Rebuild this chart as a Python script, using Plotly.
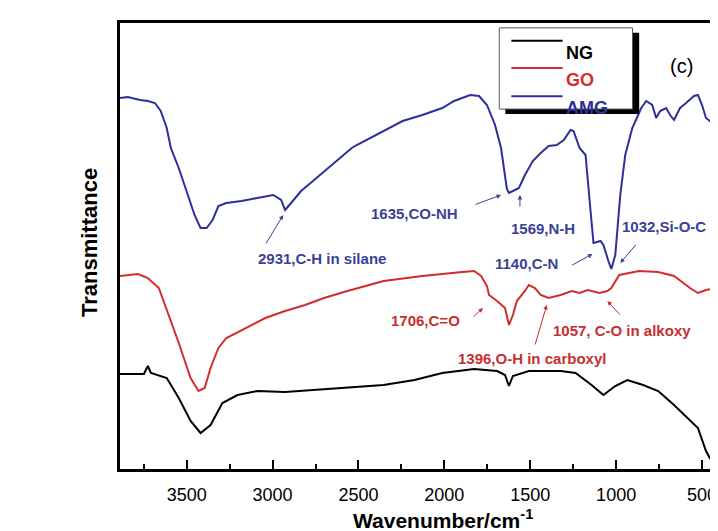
import plotly.graph_objects as go

# ---- data (wavenumber cm^-1, transmittance a.u.) ----
ng_wn = [3888, 3749, 3726, 3708, 3616, 3546, 3477, 3419, 3361, 3292, 3204, 3089, 2927, 2765, 2585, 2354,
         2174, 2012, 1827, 1693, 1647, 1624, 1601, 1508, 1323, 1236, 1143, 1074, 1005, 935, 843, 755,
         663, 570, 524, 477, 455, 432, 408, 391]
ng_t = [95, 95, 103, 96, 91, 71, 48, 36, 44, 66, 74, 78, 77, 79, 81, 84,
        89, 96, 100, 98, 94, 83, 93, 98, 98, 96, 84, 74, 83, 89, 84, 78,
        64, 48, 41, 18, 11, 14, 8, 24]

go_wn = [3888, 3783, 3726, 3685, 3662, 3546, 3477, 3431, 3395, 3361, 3315, 3269, 3158, 3042, 2927, 2811,
         2700, 2585, 2354, 2128, 1896, 1827, 1786, 1752, 1740, 1693, 1647, 1624, 1601, 1578, 1531, 1508,
         1473, 1439, 1393, 1323, 1259, 1213, 1166, 1097, 1051, 1028, 982, 866, 755, 663, 593, 570,
         524, 477, 419, 391]
go_t = [193, 195, 191, 184, 181, 126, 91, 78, 81, 101, 121, 131, 141, 151, 158, 164,
        171, 177, 188, 193, 197, 198, 193, 183, 174, 168, 161, 144, 154, 168, 178, 184,
        181, 174, 171, 174, 178, 176, 179, 176, 178, 181, 194, 198, 197, 193, 184, 181,
        176, 179, 181, 186]

amg_wn = [3888, 3842, 3772, 3726, 3685, 3651, 3616, 3592, 3546, 3500, 3454, 3419, 3384, 3349, 3315, 3269,
          3181, 3089, 2996, 2950, 2927, 2892, 2834, 2765, 2677, 2585, 2539, 2510, 2354, 2243, 2128, 2012,
          1943, 1850, 1798, 1752, 1705, 1670, 1636, 1624, 1589, 1566, 1531, 1485, 1439, 1393, 1346, 1305,
          1265, 1248, 1213, 1178, 1149, 1132, 1091, 1074, 1045, 1028, 1005, 976, 947, 906, 877,
          854, 825, 790, 767, 744, 709, 686, 663, 628, 593, 547, 524, 500, 477, 455, 419, 391]
amg_t = [371, 372, 369, 368, 366, 358, 341, 321, 301, 278, 254, 241, 241, 249, 263, 266,
         268, 271, 274, 269, 259, 266, 278, 288, 301, 314, 321, 324, 338, 348, 354, 361,
         368, 374, 373, 364, 344, 321, 280, 276, 279, 281, 294, 308, 316, 323, 324, 329,
         339, 338, 321, 314, 258, 226, 228, 224, 208, 200, 214, 274, 314, 341, 352,
         361, 368, 364, 351, 358, 361, 354, 349, 361, 366, 373, 374, 364, 351, 348, 354, 361]

series_names = ["NG", "GO", "AMG"]
x_ticks = [3500, 3000, 2500, 2000, 1500, 1000, 500]

BLUE = "#2c2f9c"
RED = "#d42b2b"
BLUE_TXT = "#3b3f97"
RED_TXT = "#c4302e"
FONT = "Liberation Sans, Arial, sans-serif"

fig = go.Figure()
fig.add_trace(go.Scatter(x=ng_wn, y=ng_t, mode="lines", line=dict(color="black", width=2), name="NG"))
fig.add_trace(go.Scatter(x=go_wn, y=go_t, mode="lines", line=dict(color=RED, width=2), name="GO"))
fig.add_trace(go.Scatter(x=amg_wn, y=amg_t, mode="lines", line=dict(color=BLUE, width=2), name="AMG"))

# peak annotations: (text, text_x, text_y, xanchor, tail_x, tail_y, head_x, head_y, color)
peaks = [
    ("2931,C-H in silane", 2713, 211, "center", 3043, 224, 2938, 254, BLUE_TXT),
    ("1635,CO-NH", 2174, 256, "center", 1827, 264, 1670, 274, BLUE_TXT),
    ("1569,N-H", 1427, 241, "center", 1560, 261, 1560, 274, BLUE_TXT),
    ("1140,C-N", 1520, 206, "center", 1265, 203, 1138, 215, BLUE_TXT),
    ("1032,Si-O-C", 976, 243, "left", 877, 226, 976, 206, BLUE_TXT),
    ("1706,C=O", 2110, 149, "center", 1838, 151, 1775, 161, RED_TXT),
    ("1396,O-H in carboxyl", 1491, 111, "center", 1474, 123, 1404, 164, RED_TXT),
    ("1057, C-O in alkoxy", 1381, 139, "left", 970, 153, 1051, 168, RED_TXT),
]
for txt, tx, ty, xa, ax_, ay_, hx, hy, col in peaks:
    fig.add_annotation(x=tx, y=ty, xref="x", yref="y", text=txt, showarrow=False, xanchor=xa,
                       font=dict(family=FONT, size=15, color=col, weight="bold"))
    fig.add_annotation(x=hx, y=hy, ax=ax_, ay=ay_, xref="x", yref="y", axref="x", ayref="y",
                       text="", showarrow=True, arrowhead=2, arrowsize=0.9, arrowwidth=1,
                       arrowcolor=col)

# legend box drawn manually (with drop shadow)
fig.add_shape(type="rect", xref="paper", yref="paper", x0=0.639, x1=0.861, y0=0.796, y1=0.978,
              fillcolor="black", line=dict(width=0))
fig.add_shape(type="rect", xref="paper", yref="paper", x0=0.629, x1=0.850, y0=0.807, y1=0.989,
              fillcolor="white", line=dict(color="#555555", width=1))
leg_cols = ["black", RED, BLUE]
leg_y = [0.960, 0.899, 0.836]
for nm, c, yy in zip(series_names, leg_cols, leg_y):
    fig.add_shape(type="line", xref="paper", yref="paper", x0=0.649, x1=0.734, y0=yy, y1=yy,
                  line=dict(color=c, width=2))
    fig.add_annotation(x=0.737, y=yy, xref="paper", yref="paper", text=nm, showarrow=False,
                       xanchor="left", font=dict(family=FONT, size=18, color=c, weight="bold"))

fig.add_annotation(x=0.954, y=0.933, xref="paper", yref="paper", text="(c)", showarrow=False,
                   font=dict(family=FONT, size=20, color="black"))

# axis titles
fig.add_annotation(x=0.535, y=-0.113, xref="paper", yref="paper", yanchor="middle",
                   text="Wavenumber/cm<sup>-1</sup>", showarrow=False,
                   font=dict(family=FONT, size=21, color="black", weight="bold"))
fig.add_annotation(x=-0.0495, y=0.507, xref="paper", yref="paper", xanchor="center",
                   text="Transmittance", showarrow=False, textangle=-90,
                   font=dict(family=FONT, size=22, color="black", weight="bold"))

fig.update_xaxes(range=[3888, 378], tickvals=x_ticks, ticktext=[str(v) for v in x_ticks],
                 ticks="inside", ticklen=9, tickwidth=1.5, tickcolor="black",
                 minor=dict(dtick=250, tick0=0, ticks="inside", ticklen=5, tickwidth=1.5, tickcolor="black"),
                 showline=True, linecolor="black", linewidth=2.5, mirror=True,
                 showgrid=False, zeroline=False, ticklabelstandoff=8,
                 tickfont=dict(family=FONT, size=18, color="black"))
fig.update_yaxes(range=[0, 446], showticklabels=False, ticks="", showline=True, linecolor="black",
                 linewidth=2.5, mirror=True, showgrid=False, zeroline=False)

fig.update_layout(width=718, height=531, margin=dict(l=112, r=0, t=15, b=70),
                  plot_bgcolor="white", paper_bgcolor="white", showlegend=False)

fig.write_html("out.html")
